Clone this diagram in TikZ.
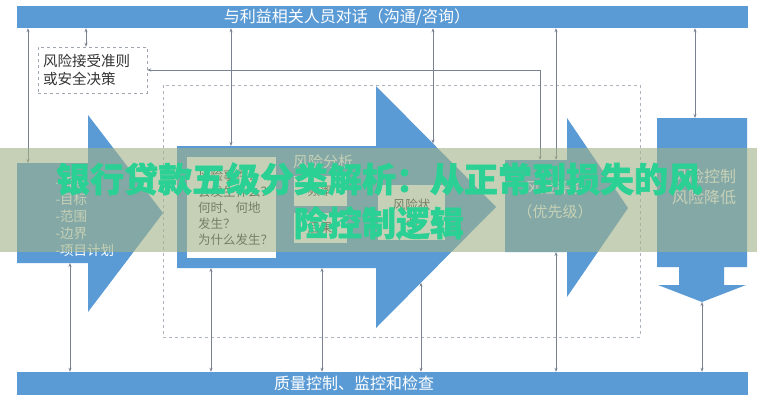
\documentclass[tikz,border=0pt]{standalone}
\usepackage{fontspec}
\setmainfont{Noto Sans CJK SC}
\newfontfamily\gruesa{Noto Sans CJK SC}[BoldFeatures={FakeBold=1.5}]
\usetikzlibrary{arrows.meta}
\definecolor{azul}{HTML}{5B9BD5}
\definecolor{gris}{RGB}{120,130,145}
\definecolor{franja}{RGB}{160,178,134}
\definecolor{verde}{RGB}{42,208,148}

\begin{document}
\begin{tikzpicture}[x=1pt, y=-1pt,
    barra/.style={fill=azul, inner sep=0pt, minimum height=22, minimum width=731},
    conector/.style={<->, >={Stealth[length=4pt, width=3pt]}, draw=gris, line width=0.7pt},
    caja/.style={fill=white, inner sep=0pt},
    texto/.style={text=white, font=\fontsize{15}{24}\selectfont, align=center},
    oscuro/.style={text=black!80, font=\fontsize{12.5}{16}\selectfont, align=left}]

    % Fondo y marco de la figura
    \fill[white] (0,0) rectangle (757,400);
    \useasboundingbox (0,0) rectangle (757,400);

    % Barras superior e inferior
    \node[barra] (barraSup) at (382.5,17) {};
    \node[barra, minimum height=23] (barraInf) at (382.5,383.5) {};
    \node[texto, font=\fontsize{16}{18}\selectfont] (dialogo) at (347,17) {与利益相关人员对话（沟通/咨询）};
    \node[texto, font=\fontsize{16}{18}\selectfont] (calidad) at (354,383.5) {质量控制、监控和检查};

    % Recuadro punteado (criterio)
    \node[draw=gris!70, dashed, fill=white, oscuro, font=\fontsize{14.5}{18}\selectfont,
          text width=99, inner sep=5, minimum height=46] (criterio) at (92.5,70) {风险接受准则\\或安全决策};

    % Marco punteado grande
    \draw[gris!60, dashed] (163,85) rectangle (640,337);

    % Flechas del proceso
    \fill[azul] (17,163) coordinate (ctxSup) -- (88,163) -- (88,115) -- (163,213) -- (88,312)
                -- (88,263) -- (17,263) coordinate (ctxInf) -- cycle;
    \fill[azul] (177,146) coordinate (evalSup) -- (376,146) -- (376,86) -- (496,207) -- (376,328)
                -- (376,268) -- (177,268) coordinate (evalInf) -- cycle;
    \fill[azul] (505,160) coordinate (priSup) -- (567,160) -- (567,118) -- (628,208) -- (567,297)
                -- (567,252) -- (505,252) coordinate (priInf) -- cycle;
    \fill[azul] (657,118) coordinate (ctrlSup) -- (747,118) -- (747,267) -- (724,267) -- (724,285)
                -- (746,285) -- (702,302) coordinate (ctrlInf) -- (658,285) -- (679,285)
                -- (679,267) -- (657,267) -- cycle;
    \coordinate (puntaSup) at (433,143.5); % borde superior de la punta
    \coordinate (puntaInf) at (421,282.6); % borde inferior de la punta

    % Textos de las flechas
    \node[texto, font=\fontsize{13.5}{17}\selectfont, align=left, anchor=west] (alcance) at (52,216)
        {-背景\\-目标\\-范围\\-边界\\-项目计划};
    \node[caja, minimum width=89, minimum height=101] (evento) at (231.5,207.5) {};
    \node[oscuro, anchor=west, inner sep=0pt] (preguntas) at ([xshift=11pt]evento.west)
        {风险事件：\\会发生什么？\\何时、何地\\发生？\\为什么发生？};
    \node[texto] (analisis) at (323,162) {风险分析};
    \node[caja, oscuro, minimum width=53, minimum height=30] (frecuencia) at (320,191) {频率};
    \node[caja, oscuro, minimum width=53, minimum height=30] (consecuencia) at (320,228) {后果};
    \node[caja, oscuro, align=center, minimum width=67, minimum height=55] (perfil) at (411.5,212.5) {风险状\\况};
    \node[texto] (valoracion) at (555,200) {风险评价\\（优先级）};
    \node[texto, font=\fontsize{16}{21}\selectfont] (control) at (704,186.5) {风险控制\\风险降低};

    % Conectores con la barra superior
    \foreach \x/\p in {28/ctxSup, 231/evalSup, 556/priSup, 695/ctrlSup} {
            \draw[conector] (\x,0 |- barraSup.south) -- (\x,0 |- \p);
        }
    \draw[conector] (86,0 |- barraSup.south) -- (86,0 |- criterio.north);
    \draw[conector] (433,0 |- barraSup.south) -- (puntaSup);
    \draw[conector] (criterio.east) -- (540,0 |- criterio.east) -- (540,0 |- priSup);

    % Conectores con la barra inferior
    \foreach \x/\p in {70/ctxInf, 211/evalInf, 322/evalInf, 556/priInf} {
            \draw[conector] (\x,0 |- \p) -- (\x,0 |- barraInf.north);
        }
    \draw[conector] (puntaInf) -- (puntaInf |- barraInf.north);
    \draw[conector] (ctrlInf) -- (ctrlInf |- barraInf.north);

    % Franja del titulo
    \fill[franja, opacity=0.6] (0,148) rectangle (757,252);
    \node[font=\gruesa\fontsize{34}{44}\selectfont\bfseries, text=verde, align=center] (titulo) at (379,201)
        {银行贷款五级分类解析：从正常到损失的风\\险控制逻辑};
\end{tikzpicture}
\end{document}
